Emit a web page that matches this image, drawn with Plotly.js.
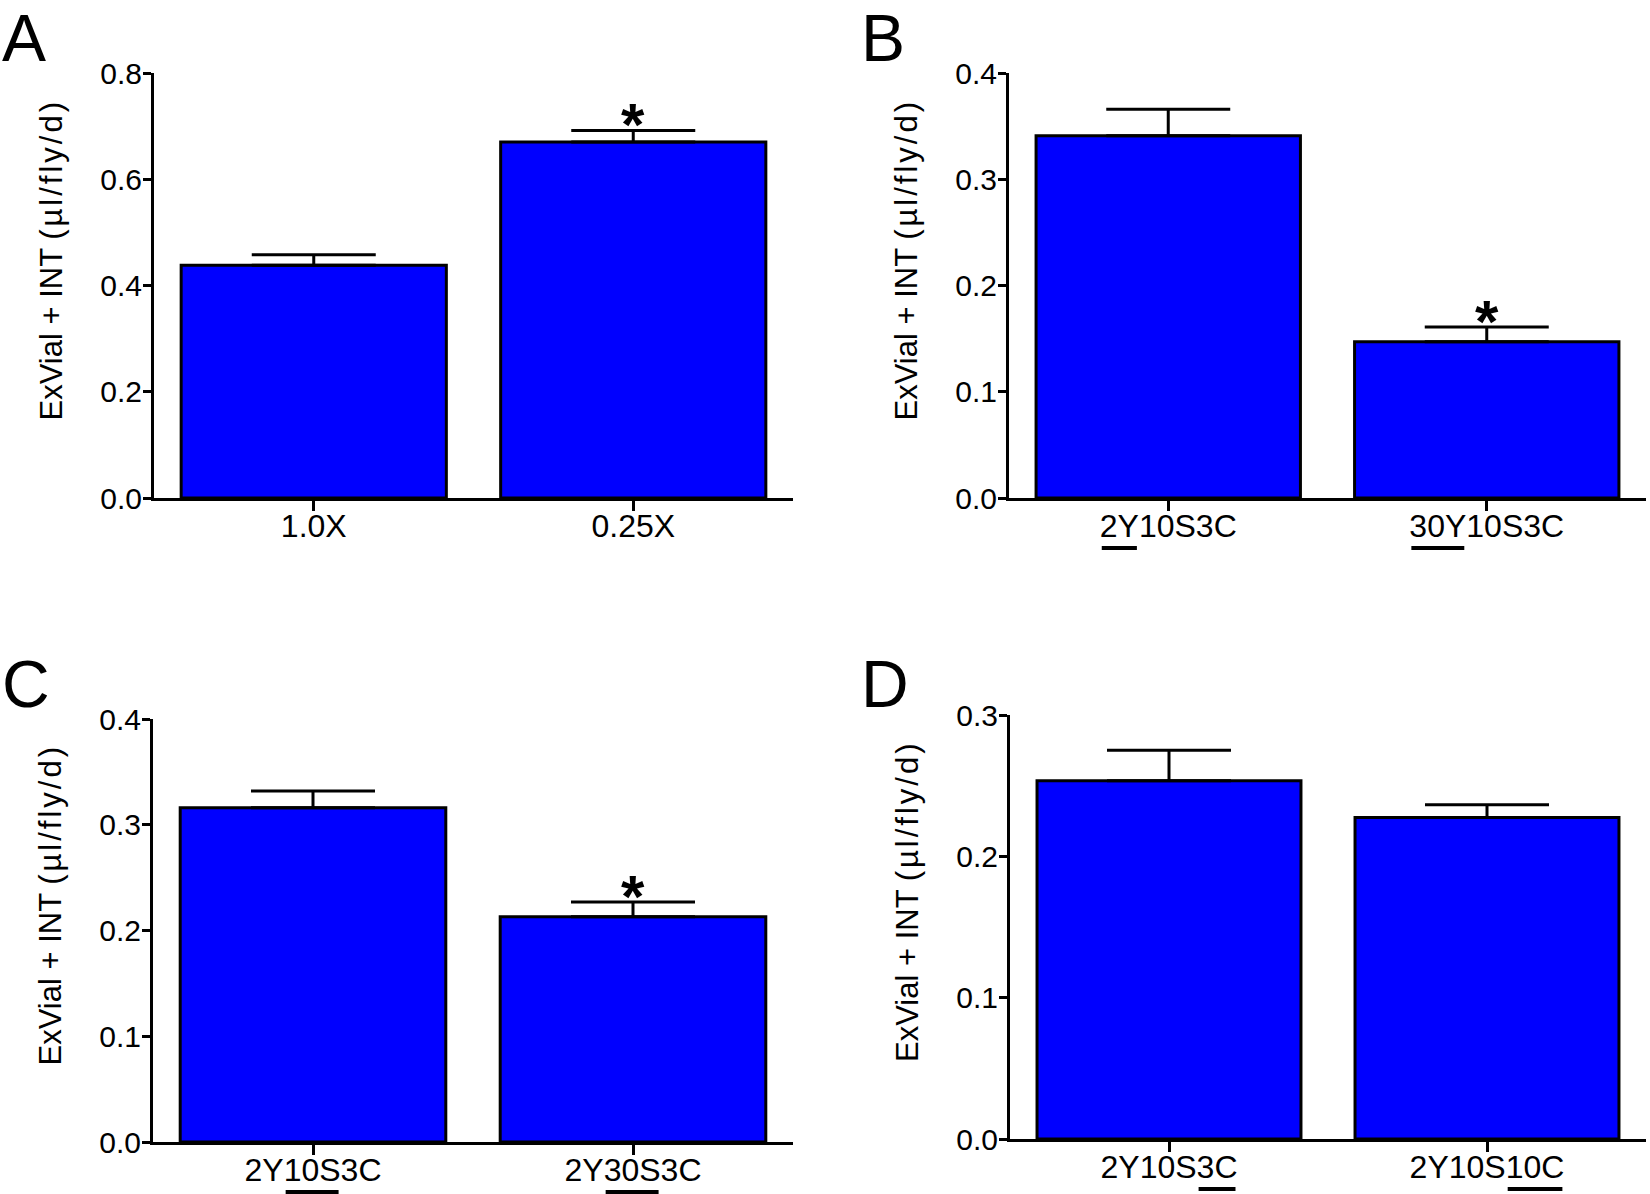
<!DOCTYPE html>
<html>
<head>
<meta charset="utf-8">
<script src="https://cdn.plot.ly/plotly-3.0.1.min.js"></script>
<style>html,body{margin:0;padding:0;background:#fff;}#chart{width:1650px;height:1194px;}</style>
</head>
<body>
<div id="chart"></div>
<script>
// ---- data ----
const catsA = ['1.0X', '0.25X'];
const labelsA = ['1.0X', '0.25X'];
const valsA = [0.438, 0.670];
const errA = [0.020, 0.022];
const sigA = [false, true];

const catsB = ['2Y10S3C', '30Y10S3C'];
const labelsB = ['<u>2Y</u>10S3C', '<u>30Y</u>10S3C'];
const valsB = [0.341, 0.147];
const errB = [0.025, 0.014];
const sigB = [false, true];

const catsC = ['2Y10S3C', '2Y30S3C'];
const labelsC = ['2Y<u>10S</u>3C', '2Y<u>30S</u>3C'];
const valsC = [0.316, 0.213];
const errC = [0.016, 0.014];
const sigC = [false, true];

const catsD = ['2Y10S3C', '2Y10S10C'];
const labelsD = ['2Y10S<u>3C</u>', '2Y10S<u>10C</u>'];
const valsD = [0.2535, 0.2275];
const errD = [0.0215, 0.009];
const sigD = [false, false];

const yMax = [0.8, 0.4, 0.4, 0.3];
const panelLetters = ['A', 'B', 'C', 'D'];
const yTitleMain = 'ExVial + INT ';
const yTitleUnit = '(µl/fly/d)';

// ---- layout helpers ----
const W = 1650, H = 1194;
const FONT = '"Liberation Sans", Arial, sans-serif';
const XTICK_SIZE = 32;
const stripU = s => s.replace(/<\/?u>/g, '');
const ctx = document.createElement('canvas').getContext('2d');
ctx.font = XTICK_SIZE + 'px "Liberation Sans", Arial, sans-serif';
const tw = s => ctx.measureText(s).width;

const panels = [
  {cats: catsA, labels: labelsA, vals: valsA, err: errA, sig: sigA, px: [154, 793], py: [73, 498]},
  {cats: catsB, labels: labelsB, vals: valsB, err: errB, sig: sigB, px: [1009, 1646], py: [73, 498]},
  {cats: catsC, labels: labelsC, vals: valsC, err: errC, sig: sigC, px: [153, 793], py: [719, 1142]},
  {cats: catsD, labels: labelsD, vals: valsD, err: errD, sig: sigD, px: [1010, 1646], py: [715, 1139]}
];
const letterPos = [[1, 0], [860, 0], [1, 646], [860, 646]];

const data = [];
const layout = {
  width: W, height: H,
  margin: {l: 0, r: 0, t: 0, b: 0},
  paper_bgcolor: '#fff', plot_bgcolor: 'rgba(0,0,0,0)',
  showlegend: false,
  bargap: 0.17,
  font: {family: FONT, color: '#000'},
  annotations: [],
  shapes: []
};

panels.forEach((p, i) => {
  const n = i === 0 ? '' : String(i + 1);
  const xa = 'x' + n, ya = 'y' + n;
  data.push({
    type: 'bar', x: p.cats, y: p.vals, xaxis: xa, yaxis: ya,
    marker: {color: '#0000FF', line: {color: '#000', width: 3}},
    error_y: {type: 'data', array: p.err, symmetric: false, arrayminus: p.err.map(() => 0),
              color: '#000', thickness: 3, width: 62},
    hoverinfo: 'skip'
  });
  layout['xaxis' + n] = {
    domain: [p.px[0] / W, p.px[1] / W], anchor: ya,
    type: 'category', range: [-0.5, 1.5],
    tickmode: 'array', tickvals: p.cats, ticktext: p.labels.map(stripU),
    showline: true, linecolor: '#000', linewidth: 3,
    ticks: 'outside', ticklen: 10, tickwidth: 3, tickcolor: '#000',
    ticklabelstandoff: -12,
    showgrid: false, zeroline: false,
    tickfont: {family: FONT, size: XTICK_SIZE, color: '#000'}
  };
  layout['yaxis' + n] = {
    domain: [1 - p.py[1] / H, 1 - p.py[0] / H], anchor: xa,
    range: [0, yMax[i]], dtick: yMax[i] === 0.8 ? 0.2 : 0.1, tickformat: '.1f',
    showline: true, linecolor: '#000', linewidth: 3,
    ticks: 'outside', ticklen: 8, tickwidth: 3, tickcolor: '#000',
    ticklabelstandoff: -5,
    showgrid: false, zeroline: false,
    tickfont: {family: FONT, size: 30, color: '#000'}
  };
  // underlines below the tick labels (thick, as in the original figure)
  const unit = (p.px[1] - p.px[0]) / 2;
  p.labels.forEach((lab, k) => {
    const m = lab.match(/^(.*?)<u>(.*?)<\/u>/);
    if (!m) return;
    const total = tw(stripU(lab));
    const center = p.px[0] + (k + 0.5) * unit;
    const x0 = center - total / 2 + tw(m[1]) + 2;
    const x1 = x0 + tw(m[2]) - 4;
    const yy = 1 - (p.py[1] + 50) / H;
    layout.shapes.push({type: 'line', xref: 'paper', yref: 'paper',
      x0: x0 / W, x1: x1 / W, y0: yy, y1: yy, line: {color: '#000', width: 4}});
  });
  // y-axis title
  layout.annotations.push({
    xref: 'paper', yref: 'paper',
    x: (p.px[0] - 103) / W, y: 1 - ((p.py[0] + p.py[1]) / 2 - 26) / H,
    xanchor: 'center', yanchor: 'middle', textangle: -90, showarrow: false,
    text: yTitleMain + '<span style="letter-spacing:3px">' + yTitleUnit + '</span>',
    font: {family: FONT, size: 31, color: '#000'}
  });
  p.sig.forEach((s, k) => {
    if (s) {
      layout.annotations.push({
        xref: xa, yref: ya, x: p.cats[k], y: p.vals[k] + p.err[k],
        text: '<b>*</b>', showarrow: false, yanchor: 'bottom', yshift: -30,
        font: {family: FONT, size: 60, color: '#000'}
      });
    }
  });
  layout.annotations.push({
    xref: 'paper', yref: 'paper', x: letterPos[i][0] / W, y: 1 - letterPos[i][1] / H,
    xanchor: 'left', yanchor: 'top', borderpad: 0,
    text: panelLetters[i], showarrow: false,
    font: {family: FONT, size: 66, color: '#000'}
  });
});

Plotly.newPlot('chart', data, layout, {displayModeBar: false, staticPlot: true});
</script>
</body>
</html>
